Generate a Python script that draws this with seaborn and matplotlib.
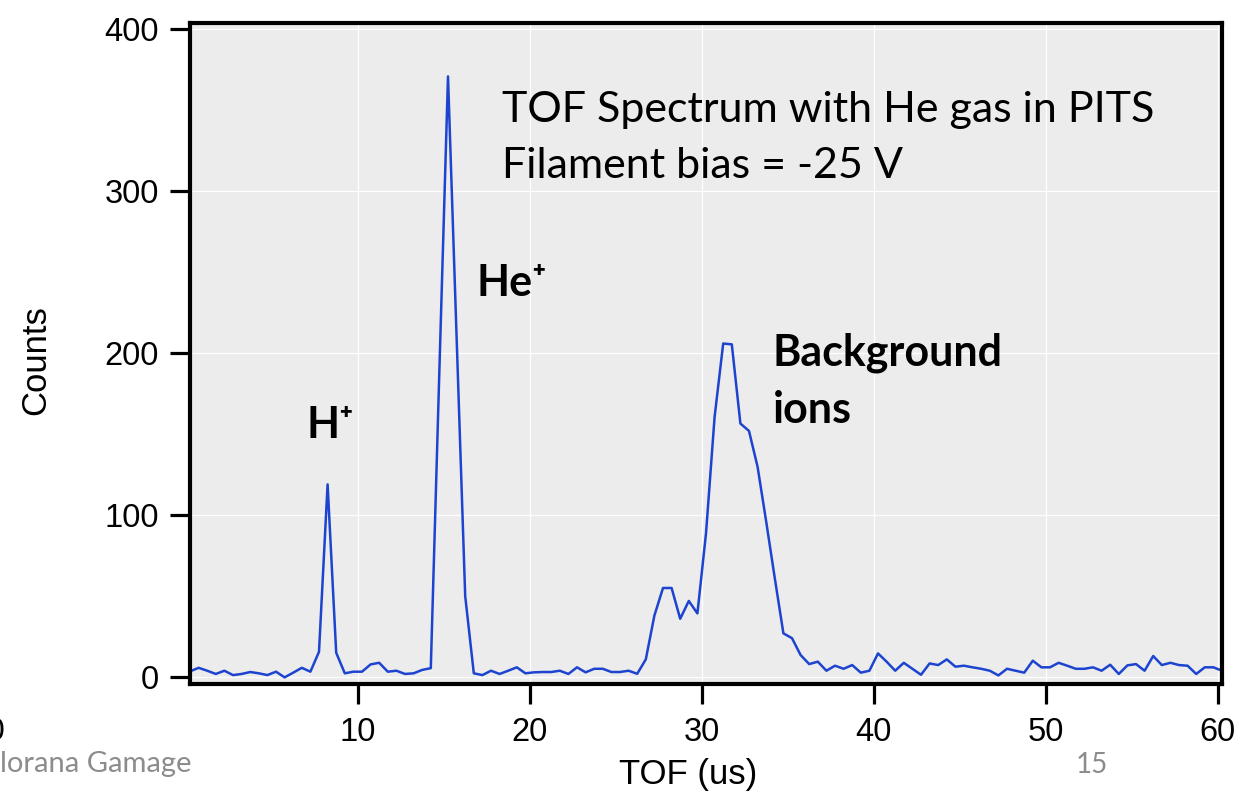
import numpy as np
import matplotlib
matplotlib.use("Agg")
import matplotlib.pyplot as plt
import seaborn as sns

# Time-of-flight sampling grid (us) and detector counts per bin
tof_start, tof_step, n_bins = 0.25, 0.5, 121
counts = [
    3.5, 5.7, 3.9, 1.9, 3.9, 1.2, 1.9, 3.1, 2.3, 1.2,
    3.3, -0.2, 2.7, 5.7, 3.3, 15.6, 119, 15, 2.3, 3.3,
    3.3, 7.8, 8.8, 3.3, 3.9, 1.9, 2.3, 4.4, 5.5, 190,
    371, 210, 50, 2.3, 1.2, 3.9, 1.9, 3.9, 6.0, 2.3,
    2.9, 3.1, 3.1, 3.9, 1.9, 6.0, 2.9, 5.1, 5.1, 3.1,
    3.1, 3.9, 2.0, 10.9, 38, 55, 55, 36, 47, 39.3,
    88.7, 160.7, 206, 205.5, 156.6, 152, 129.8, 96, 61, 27,
    24, 13.6, 8, 9.5, 3.9, 7, 5.1, 7.4, 2.7, 3.9,
    14.6, 9.5, 3.9, 8.8, 5.1, 1.4, 8.4, 7.4, 10.9, 6.4,
    7, 6, 5.1, 3.9, 1.0, 5.1, 3.9, 2.7, 10.1, 6,
    6, 8.8, 7, 5.1, 5.1, 6, 3.9, 7.6, 1.9, 7.2,
    8, 3.9, 13, 7.4, 8.8, 7.4, 7, 1.9, 6, 6,
    3.9,
]
tof = tof_start + tof_step * np.arange(n_bins)

x_ticks = [10, 20, 30, 40, 50, 60]
y_ticks = [0, 100, 200, 300, 400]

sns.set_theme(style="darkgrid")
plt.rcParams["font.family"] = ["Liberation Sans", "DejaVu Sans"]

W, H = 1258, 796
fig = plt.figure(figsize=(W / 100, H / 100), dpi=100)
ax = fig.add_axes([190 / W, 1 - 684 / H, (1222 - 190) / W, (684 - 23) / H])
ax.set_facecolor("#ECECEC")

sns.lineplot(x=tof, y=counts, ax=ax, color="#1d44cf", linewidth=1.8)

ax.set_xlim(tof[0], tof[-1])
ax.set_ylim(-4.3, 404)
ax.set_xticks(x_ticks)
ax.set_yticks(y_ticks)
ax.grid(True, color="white", linewidth=0.9)

for s in ax.spines.values():
    s.set_visible(True)
    s.set_color("black")
    s.set_linewidth(3)

ax.tick_params(axis="both", direction="out", length=14.5, width=2.3,
               color="black", labelsize=23.5, labelcolor="black")
ax.tick_params(axis="x", pad=9)
ax.tick_params(axis="y", pad=8)
ax.tick_params(axis="both", which="both", bottom=True, left=True)

ax.set_xlabel("TOF (us)", fontsize=25, color="black")
ax.set_ylabel("Counts", fontsize=25, color="black")
ax.xaxis.set_label_coords((688 - 190) / 1032, (684 - 758) / 661)
ax.yaxis.set_label_coords((52 - 190) / 1032, 0.49)

def ax_pos(px, py):
    return (px - 190) / 1032, (684 - py) / 661

cal = ["Lato", "Noto Sans", "DejaVu Sans"]

x0, y0 = ax_pos(502, 122)
ax.text(x0, y0, "TOF Spectrum with He gas in PITS", transform=ax.transAxes,
        family=cal, fontsize=31, va="baseline", ha="left", color="black")
x0, y0 = ax_pos(502, 178)
ax.text(x0, y0, "Filament bias = -25 V", transform=ax.transAxes,
        family=cal, fontsize=31, va="baseline", ha="left", color="black")

for label, (px, py) in {"He⁺": (477, 296), "H⁺": (306, 438),
                        "Background": (773, 366), "ions": (773, 423)}.items():
    x0, y0 = ax_pos(px, py)
    ax.text(x0, y0, label, transform=ax.transAxes, family=cal,
            fontsize=31, fontweight="bold", va="baseline", ha="left",
            color="black")

# Slide footer
fig.text(0 / W, 1 - 772 / H, "lorana Gamage", family=cal, fontsize=21,
         color="#8c8c8c", ha="left", va="baseline")
fig.text(1076 / W, 1 - 773 / H, "15", family=cal, fontsize=20,
         color="#8c8c8c", ha="left", va="baseline")
fig.text(4 / W, 1 - 740 / H, "0", fontsize=23, color="black",
         ha="right", va="baseline")

fig.savefig("out.png", dpi=100)
